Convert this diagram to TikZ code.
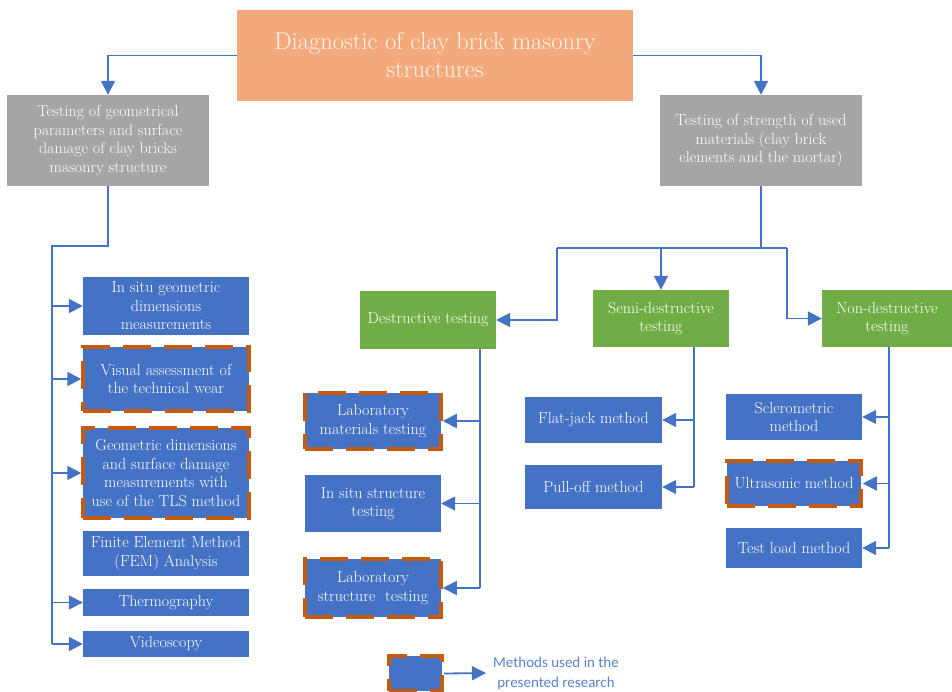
\documentclass[tikz,border=0pt]{standalone}
\usepackage{fontspec}
\newfontfamily\legendfont{Carlito}
\usepackage{tikz}
\usetikzlibrary{arrows.meta}

\definecolor{titleorange}{HTML}{F2AA7C}
\definecolor{maingray}{HTML}{A5A5A5}
\definecolor{groupgreen}{HTML}{70AD47}
\definecolor{boxblue}{HTML}{4472C4}
\definecolor{usedorange}{HTML}{C55A11}
\definecolor{legendblue}{HTML}{5B82C8}

\begin{document}
\begin{tikzpicture}[x=1pt,y=-1pt,
    every node/.style={align=center,text=white,inner sep=1pt,font=\fontsize{16}{18.5}\selectfont},
    main/.style={fill=maingray,minimum width=202pt,minimum height=91pt},
    group/.style={fill=groupgreen,minimum height=57pt},
    method/.style={fill=boxblue},
    used/.style={method,draw=usedorange,line width=3.5pt,dash pattern=on 28pt off 13pt},
    link/.style={draw=boxblue,line width=1.8pt},
    arr/.style={link,-{Triangle[length=14pt,width=14pt]}}]
    \useasboundingbox (0,0) rectangle (952,692);

    \node [fill=titleorange,minimum width=396pt,minimum height=91pt,text=white!92!orange,
           font=\fontsize{24.5}{28}\selectfont] (title) at (435,55.5)
          {Diagnostic of clay brick masonry\\structures};
    \node [main] (geo) at (108,140.5)
          {Testing of geometrical\\parameters and surface\\damage of clay bricks\\masonry structure};
    \node [main] (str) at (761,140.5)
          {Testing of strength of used\\materials (clay brick\\elements and the mortar)};

    % geometrical testing
    \node [method,minimum width=166pt,minimum height=58pt] (insitu) at (166,306)
          {In situ geometric\\dimensions\\measurements};
    \node [used,minimum width=166pt,minimum height=64pt] (visual) at (166,379)
          {Visual assessment of\\the technical wear};
    \node [used,minimum width=166pt,minimum height=90pt] (tls) at (166,473)
          {Geometric dimensions\\and surface damage\\measurements with\\use of the TLS method};
    \node [method,minimum width=166pt,minimum height=45pt] (fem) at (166,553.5)
          {Finite Element Method\\(FEM) Analysis};
    \node [method,minimum width=166pt,minimum height=27pt] (thermo) at (166,602.5) {Thermography};
    \node [method,minimum width=166pt,minimum height=26pt] (video) at (166,644) {Videoscopy};

    % strength testing
    \node [group,minimum width=136pt] (destr) at (428,320) {Destructive testing};
    \node [group,minimum width=136pt] (semi) at (661,318.5) {Semi-destructive\\testing};
    \node [group,minimum width=130pt] (nondes) at (887,318.5) {Non-destructive\\testing};

    \node [used,minimum width=136pt,minimum height=56pt] (labmat) at (373,421)
          {Laboratory\\materials testing};
    \node [method,minimum width=136pt,minimum height=57pt] (insitustr) at (373,503.5)
          {In situ structure\\testing};
    \node [used,minimum width=136pt,minimum height=58pt] (labstr) at (373,588)
          {Laboratory\\structure\ \ testing};

    \node [method,minimum width=137pt,minimum height=46pt] (flat) at (593.5,420) {Flat-jack method};
    \node [method,minimum width=137pt,minimum height=44pt] (pull) at (593.5,487) {Pull-off method};

    \node [method,minimum width=136pt,minimum height=46pt] (sclero) at (794,417)
          {Sclerometric\\method};
    \node [used,minimum width=134pt,minimum height=45pt] (ultra) at (794,483.5) {Ultrasonic method};
    \node [method,minimum width=136pt,minimum height=40pt] (load) at (794,548) {Test load method};

    % legend
    \node [used,minimum width=53pt,minimum height=35pt] (legbox) at (415.5,673.5) {};
    \node [text=legendblue,font=\legendfont\fontsize{15}{20}\selectfont] (legtext) at (556,673)
          {Methods used in the\\presented research};

    % connectors
    \draw [arr] (title.west) -| (geo.north);
    \draw [arr] (title.east) -| (str.north);

    \coordinate (lt) at (52,246);
    \draw [link] (geo.south) |- (lt) -- (lt |- video.west);
    \foreach \n in {insitu,visual,tls,thermo,video}
        \draw [arr] (lt |- \n.west) -- (\n.west);

    \coordinate (bl) at (557,248);
    \coordinate (br) at (787,248);
    \draw [link] (str.south) -- (str.south |- bl);
    \draw [link] (bl) -- (br);
    \draw [arr] (bl) |- (destr.east);
    \draw [arr] (semi.north |- bl) -- (semi.north);
    \draw [arr] (br) |- (nondes.west);

    \coordinate (dtop) at (480,349);
    \draw [link] (dtop) -- (dtop |- labstr.east);
    \foreach \n in {labmat,insitustr,labstr}
        \draw [arr] (dtop |- \n.east) -- (\n.east);

    \coordinate (stop) at (694,347);
    \draw [link] (stop) -- (stop |- pull.east);
    \foreach \n in {flat,pull}
        \draw [arr] (stop |- \n.east) -- (\n.east);

    \coordinate (ntop) at (889,347);
    \draw [link] (ntop) -- (ntop |- load.east);
    \foreach \n in {sclero,ultra,load}
        \draw [arr] (ntop |- \n.east) -- (\n.east);

    \draw [arr,shorten >=6pt] (legbox.east) -- (legtext.west);
\end{tikzpicture}
\end{document}
